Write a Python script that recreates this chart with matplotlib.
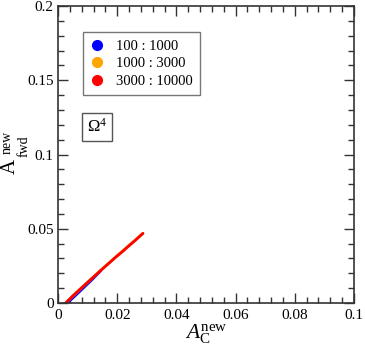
import numpy as np
import matplotlib
matplotlib.use("Agg")
import matplotlib.pyplot as plt
from matplotlib.ticker import MultipleLocator
from matplotlib.lines import Line2D

plt.rcParams['font.family'] = ['Liberation Serif', 'DejaVu Serif']
plt.rcParams['mathtext.fontset'] = 'custom'
plt.rcParams['mathtext.rm'] = 'Liberation Serif'
plt.rcParams['mathtext.it'] = 'Liberation Serif:italic'

labels = ["100 : 1000", "1000 : 3000", "3000 : 10000"]
colors = ["#0000ff", "#ffa500", "#ff0000"]

x_blue = [0.0030, 0.0050, 0.0070, 0.0090, 0.0110, 0.0130, 0.0145]
y_blue = [0.0000, 0.0034, 0.0072, 0.0110, 0.0148, 0.0188, 0.0218]
x_orange = [0.0028, 0.0085, 0.0146, 0.0197, 0.0236, 0.0287]
y_orange = [0.0005, 0.0112, 0.0224, 0.0314, 0.0381, 0.0469]
x_red = [0.0026, 0.0050, 0.0085, 0.0120, 0.0146, 0.0170, 0.0197, 0.0220, 0.0236, 0.0260, 0.0287]
y_red = [0.0000, 0.0048, 0.0112, 0.0175, 0.0222, 0.0264, 0.0312, 0.0350, 0.0379, 0.0420, 0.0469]

W, H = 365, 347
fig = plt.figure(figsize=(W/100, H/100), dpi=100)
ax = fig.add_axes([58/W, 1-303/H, (354-58)/W, (303-6)/H])

for xs, ys, c in [(x_blue, y_blue, colors[0]), (x_orange, y_orange, colors[1]), (x_red, y_red, colors[2])]:
    ax.plot(xs, ys, color=c, lw=2.0, solid_capstyle='round')

ax.set_xlim(0, 0.1)
ax.set_ylim(0, 0.2)
ax.xaxis.set_minor_locator(MultipleLocator(0.004))
ax.yaxis.set_minor_locator(MultipleLocator(0.01))
ax.set_xticks([0, 0.02, 0.04, 0.06, 0.08, 0.1])
ax.set_xticklabels(["0", "0.02", "0.04", "0.06", "0.08", "0.1"])
ax.set_yticks([0, 0.05, 0.1, 0.15, 0.2])
ax.set_yticklabels(["0", "0.05", "0.1", "0.15", "0.2"])
ax.tick_params(which='both', direction='in', top=True, right=True, labelsize=11, color='#333333')
ax.tick_params(which='major', length=7, width=1)
ax.tick_params(which='minor', length=4, width=1)
ax.tick_params(axis='x', pad=4)
ax.tick_params(axis='y', pad=3)
for s in ax.spines.values():
    s.set_linewidth(1.2)
    s.set_color('#333333')

ax.set_xlabel(r"$A_{\mathrm{C}}^{\mathrm{new}}$", fontsize=15.5, labelpad=0.5)

# y label built from pieces: A with stacked superscript/subscript
def ftxt(px, py, s, size):
    fig.text(px/W, 1-py/H, s, rotation=90, ha='center', va='center', fontsize=size)
ftxt(10, 166.5, "A", 15)
ftxt(7.5, 142.5, "new", 10)
ftxt(24.5, 146, "fwd", 10)

handles = [Line2D([], [], marker='o', color=c, ls='none', markersize=7) for c in colors]
leg = ax.legend(handles, labels, loc='upper left', bbox_to_anchor=(0.084, 0.912),
                borderaxespad=0, fontsize=10.5, frameon=True, fancybox=False, edgecolor='#555555',
                handletextpad=0.8, borderpad=0.5, labelspacing=0.3, handlelength=1.0)
leg.get_frame().set_linewidth(1.0)

ax.text(0.097, 0.563, r"$\Omega^{4}$", transform=ax.transAxes, fontsize=12, ha='left', va='bottom',
        bbox=dict(boxstyle='square,pad=0.3', fc='white', ec='#555555', lw=1.0))

fig.savefig("out.png", dpi=100)
